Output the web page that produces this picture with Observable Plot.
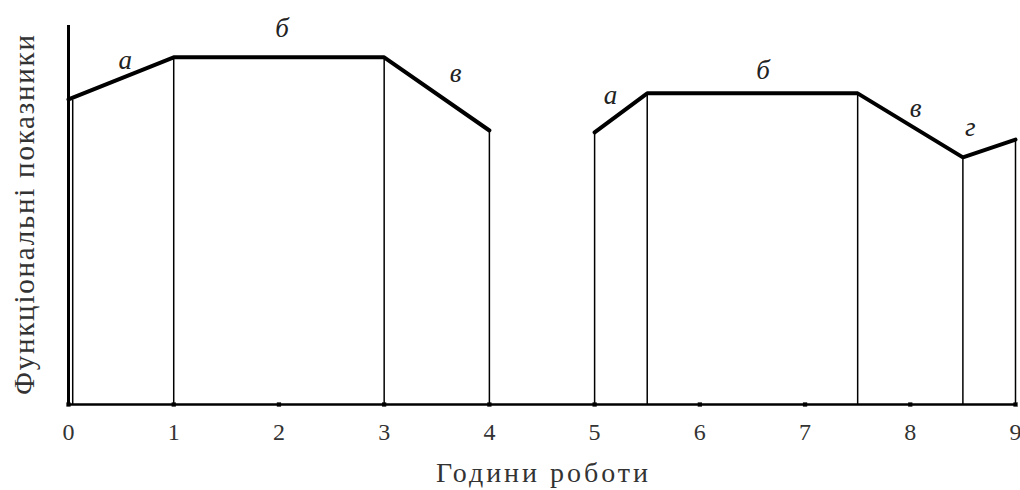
<!DOCTYPE html>
<html>
<head>
<meta charset="utf-8">
<script src="https://cdn.jsdelivr.net/npm/d3@7"></script>
<script src="https://cdn.jsdelivr.net/npm/@observablehq/plot@0.6"></script>
<style>
  html, body { margin: 0; padding: 0; background: #fff; }
</style>
</head>
<body>
<div id="chart"></div>
<script>
// Period 1 (before break)
const hours1 = [0, 1, 3, 4];
const values1 = [80.5, 91.6, 91.6, 72.3];
// Period 2 (after break)
const hours2 = [5, 5.5, 7.5, 8.5, 9];
const values2 = [71.8, 82.1, 82.1, 65.2, 69.9];
// Vertical phase boundaries
const boundaryHours = [0.04, 1, 3, 4, 5, 5.5, 7.5, 8.5, 9];
const boundaryValues = [80.3, 91.6, 91.6, 72.3, 71.8, 82.1, 82.1, 65.2, 69.9];
// Phase labels
const phaseLabels = ["а", "б", "в", "а", "б", "в", "г"];
const labelHours = [0.54, 2.03, 3.68, 5.15, 6.6, 8.05, 8.57];
const labelValues = [90.8, 99.2, 87.3, 81.5, 88.1, 78.1, 73.1];
// Axis ticks
const xTicks = [0, 1, 2, 3, 4, 5, 6, 7, 8, 9];
const xTitle = "Години роботи";
const yTitle = "Функціональні показники";

const line1 = hours1.map((h, i) => ({h, v: values1[i]}));
const line2 = hours2.map((h, i) => ({h, v: values2[i]}));
const bounds = boundaryHours.map((h, i) => ({h, v: boundaryValues[i]}));
const labels = phaseLabels.map((t, i) => ({t, h: labelHours[i], v: labelValues[i]}));

const chart = Plot.plot({
  width: 1020,
  height: 490,
  marginLeft: 68,
  marginRight: 5,
  marginTop: 25,
  marginBottom: 86,
  style: { fontFamily: "'Liberation Serif', serif", background: "#fff", color: "#000" },
  x: { domain: [0, 9], axis: null },
  y: { domain: [0, 100], axis: null },
  marks: [
    Plot.ruleX(bounds, { x: "h", y1: 0, y2: "v", stroke: "#000", strokeWidth: 1.5 }),
    Plot.ruleY([0], { stroke: "#000", strokeWidth: 2.5 }),
    Plot.ruleX([0], { y1: 0, y2: 100, stroke: "#000", strokeWidth: 3 }),
    Plot.dot(xTicks, { x: d => d, y: 0, symbol: "square", r: 2.4, fill: "#000", stroke: "none" }),
    Plot.axisX({ ticks: xTicks, tickSize: 0, tickPadding: 18, fontSize: 24, label: null,
      tickFormat: d => String(d), fill: "#333" }),
    Plot.line(line1, { x: "h", y: "v", stroke: "#000", strokeWidth: 4, strokeLinejoin: "miter" }),
    Plot.line(line2, { x: "h", y: "v", stroke: "#000", strokeWidth: 4, strokeLinejoin: "miter" }),
    Plot.text(labels, { x: "h", y: "v", text: "t", fontSize: 27, fontStyle: "italic", fill: "#222" }),
    Plot.text([xTitle], { frameAnchor: "bottom", dy: 77, text: d => d, fontSize: 28,
      fill: "#333", className: "xtitle" }),
    Plot.text([yTitle], { frameAnchor: "left", dx: -44, rotate: -90, textAnchor: "middle",
      text: d => d, fontSize: 29, fill: "#333", className: "ytitle" })
  ]
});
document.getElementById("chart").appendChild(chart);
// stretch axis titles to the wide letter spacing of the original
d3.select(chart).selectAll(".xtitle text").attr("textLength", 212).attr("lengthAdjust", "spacing");
d3.select(chart).selectAll(".ytitle text").attr("textLength", 360).attr("lengthAdjust", "spacing");
</script>
</body>
</html>
